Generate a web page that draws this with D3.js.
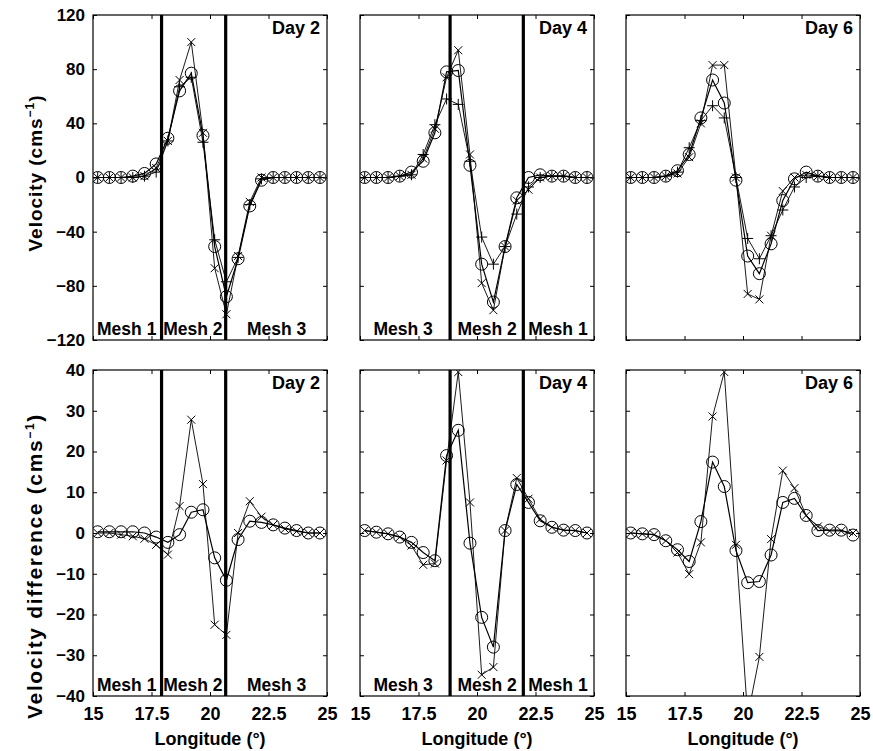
<!DOCTYPE html>
<html><head><meta charset="utf-8">
<script src="https://cdn.jsdelivr.net/npm/d3@7"></script>
<style>
body{margin:0;background:#fff;}
text{font-family:"Liberation Sans",Arial,Helvetica,sans-serif;font-weight:bold;fill:#000;}
</style></head>
<body><svg id="chart" width="873" height="751"></svg>
<script>
// ---------- data ----------
const longitude = [15.2,15.7,16.2,16.7,17.2,17.7,18.2,18.7,19.2,19.7,20.2,20.7,21.2,21.7,22.2,22.7,23.2,23.7,24.2,24.7];

// Velocity (top row): circles, crosses, pluses
const velDay2Circle = [0,0,0,1,3,10,29,64,77,31,-51,-88,-60,-21,-2,0,0,0,0,0];
const velDay2Cross  = [0,0,0,0,1,7,27,72,100,33,-67,-101,-58,-18,0,0,0,0,0,0];
const velDay2Plus   = [0,0,0,0,1,4,27,67,74,26,-46,-77,-59,-20,-1,0,0,0,0,0];

const velDay4Circle = [0,0,0,1,4,12,33,78,79,9,-64,-92,-51,-15,0,2,1,1,0,0];
const velDay4Cross  = [0,0,0,1,2,14,36,74,94,17,-78,-98,-51,-17,-9,0,1,1,0,0];
const velDay4Plus   = [0,0,0,1,2,17,39,58,54,12,-44,-64,-51,-27,-7,0,1,1,0,0];

const velDay6Circle = [0,0,0,1,5,17,44,72,55,-2,-58,-71,-49,-17,-1,4,1,0,0,0];
const velDay6Cross  = [0,0,0,1,3,15,40,83,83,0,-86,-90,-43,-10,0,2,1,0,0,0];
const velDay6Plus   = [0,0,0,1,4,22,42,53,44,0,-45,-60,-43,-24,-7,0,1,0,0,0];

// Velocity difference (bottom row): circles, crosses
const diffDay2Circle = [0.3,0.3,0.3,0.3,0,-1,-2.3,-0.4,5.1,5.7,-6.1,-11.6,-1.6,2.9,2.6,2,1.2,0.6,0,0];
const diffDay2Cross  = [0,0,-0.4,-0.8,-1.4,-2.9,-5.3,6.6,27.8,12,-22.5,-25,0,7.8,4,2,1,0.4,0,0];

const diffDay4Circle = [0.6,0.2,-0.2,-1,-2.3,-4.8,-6.8,19,25.2,-2.5,-20.7,-28,0.6,11.9,7.5,3,1.4,0.7,0.6,0];
const diffDay4Cross  = [0.6,0.2,-0.2,-1,-3.1,-7.8,-7.5,17.8,39.5,7.5,-34.8,-32.9,0.6,13.5,8.4,3.4,1.4,0.7,0.6,0];

const diffDay6Circle = [0,-0.2,-0.4,-1.9,-4.1,-7,2.8,17.4,11.4,-4.3,-12.2,-11.9,-5.4,7.5,8.5,4.3,0.6,0.7,0.7,-0.5];
const diffDay6Cross  = [0,-0.2,-0.4,-1.9,-4.8,-10.1,-2.3,28.6,39.5,-2.9,-45,-30.4,-1.5,15.3,11,4.3,1.6,0.5,0.5,0];

const dayLabels = ["Day 2","Day 4","Day 6"];
const xTicks = [15,17.5,20,22.5,25];
const xTickLabels = ["15","17.5","20","22.5","25"];
const velTicks = [-120,-80,-40,0,40,80,120];
const diffTicks = [-40,-30,-20,-10,0,10,20,30,40];
const meshBoundaries = [[17.93,20.67],[18.85,21.98],[]];
const meshNames = [["Mesh 1","Mesh 2","Mesh 3"],["Mesh 3","Mesh 2","Mesh 1"],[]];
const meshLabelLon = [[16.44,19.27,22.85],[16.84,20.43,23.46],[]];

// ---------- layout ----------
const svg = d3.select("#chart");
const colLeft = [93,360,626];
const panelW = 234;
const rows = [
  {top:15, bottom:340, domain:[-120,120], ticks:velTicks,
   series:[[velDay2Circle,velDay2Cross,velDay2Plus],[velDay4Circle,velDay4Cross,velDay4Plus],[velDay6Circle,velDay6Cross,velDay6Plus]],
   label:"Velocity (cms", labelCenter:173, labelLen:157, labelFont:19},
  {top:370, bottom:696, domain:[-40,40], ticks:diffTicks,
   series:[[diffDay2Circle,diffDay2Cross],[diffDay4Circle,diffDay4Cross],[diffDay6Circle,diffDay6Cross]],
   label:"Velocity difference (cms", labelCenter:566, labelLen:306, labelFont:21}
];
const markerTypes = ["circle","cross","plus"];
const FONT = "Liberation Sans, Arial, sans-serif";

rows.forEach((row, ri) => {
  const y = d3.scaleLinear().domain(row.domain).range([row.bottom,row.top]);
  colLeft.forEach((left, ci) => {
    const x = d3.scaleLinear().domain([15,25]).range([left,left+panelW]);
    const g = svg.append("g");
    const clipId = `clip-${ri}-${ci}`;
    svg.append("clipPath").attr("id",clipId).append("rect")
      .attr("x",left).attr("y",row.top).attr("width",panelW).attr("height",row.bottom-row.top);

    // axes with inward ticks
    const axL = d3.axisLeft(y).tickValues(row.ticks).tickSizeInner(-4).tickSizeOuter(0)
      .tickFormat(ci===0 ? (d=>d<0?"\u2212"+Math.abs(d):d) : "");
    const axR = d3.axisRight(y).tickValues(row.ticks).tickSizeInner(-4).tickSizeOuter(0).tickFormat("");
    const axB = d3.axisBottom(x).tickValues(xTicks).tickSizeInner(-4).tickSizeOuter(0)
      .tickFormat(ri===1 ? ((d,i)=>xTickLabels[i]) : "");
    const axT = d3.axisTop(x).tickValues(xTicks).tickSizeInner(-4).tickSizeOuter(0).tickFormat("");
    const gl = g.append("g").attr("transform",`translate(${left},0)`).call(axL);
    g.append("g").attr("transform",`translate(${left+panelW},0)`).call(axR);
    const gb = g.append("g").attr("transform",`translate(0,${row.bottom})`).call(axB);
    g.append("g").attr("transform",`translate(0,${row.top})`).call(axT);
    g.selectAll(".domain").remove();
    g.selectAll(".tick line").attr("stroke","#000").attr("stroke-width",1);
    gl.selectAll("text").attr("x",-8).attr("font-size",17).attr("font-weight","bold")
      .attr("font-family",FONT);
    gb.selectAll("text").attr("y",11).attr("font-size",18).attr("font-weight","bold")
      .attr("font-family",FONT);

    // frame
    g.append("rect").attr("x",left).attr("y",row.top).attr("width",panelW).attr("height",row.bottom-row.top)
      .attr("fill","none").attr("stroke","#000").attr("stroke-width",1.2);

    // series
    const plot = g.append("g").attr("clip-path",`url(#${clipId})`);
    row.series[ci].forEach((vals, si) => {
      const pts = longitude.map((lon,i)=>[x(lon),y(vals[i])]);
      plot.append("path").attr("d",d3.line()(pts)).attr("fill","none")
        .attr("stroke","#000").attr("stroke-width", si===0?1.2:0.9);
      const type = markerTypes[si];
      pts.forEach(([px,py])=>{
        if(type==="circle"){
          plot.append("circle").attr("cx",px).attr("cy",py).attr("r",6)
            .attr("fill","none").attr("stroke","#000").attr("stroke-width",1);
        } else if(type==="cross"){
          const s=4;
          plot.append("path").attr("d",`M${px-s},${py-s}L${px+s},${py+s}M${px-s},${py+s}L${px+s},${py-s}`)
            .attr("stroke","#000").attr("stroke-width",1);
        } else {
          const s=5.5;
          plot.append("path").attr("d",`M${px-s},${py}L${px+s},${py}M${px},${py-s}L${px},${py+s}`)
            .attr("stroke","#000").attr("stroke-width",1);
        }
      });
    });

    // mesh boundaries
    meshBoundaries[ci].forEach(b=>{
      g.append("line").attr("x1",x(b)).attr("x2",x(b)).attr("y1",row.top).attr("y2",row.bottom)
        .attr("stroke","#000").attr("stroke-width",3.2);
    });
    meshNames[ci].forEach((nm,k)=>{
      g.append("text").attr("x",x(meshLabelLon[ci][k])).attr("y",row.bottom-5)
        .attr("text-anchor","middle").attr("font-size",17.5).text(nm);
    });

    // day label
    g.append("text").attr("x",left+panelW-7).attr("y",row.top+19).attr("text-anchor","end")
      .attr("font-size",18).text(dayLabels[ci]);

    if(ri===1){
      g.append("text").attr("x",left+panelW/2).attr("y",745).attr("text-anchor","middle")
        .attr("font-size",18).text("Longitude (\u00B0)");
    }
  });

  // y label
  const t = svg.append("text").attr("transform",`translate(42,${row.labelCenter}) rotate(-90)`)
    .attr("text-anchor","middle").attr("font-size",row.labelFont);
  t.append("tspan").text(row.label);
  t.append("tspan").attr("dy",-8).attr("font-size",12).text("\u22121");
  t.append("tspan").attr("dy",8).text(")");
  const len = t.node().getComputedTextLength();
  const nChars = row.label.length + 3;
  t.attr("letter-spacing", Math.max(0,(row.labelLen - len)/nChars).toFixed(2));
});
</script>
</body></html>
